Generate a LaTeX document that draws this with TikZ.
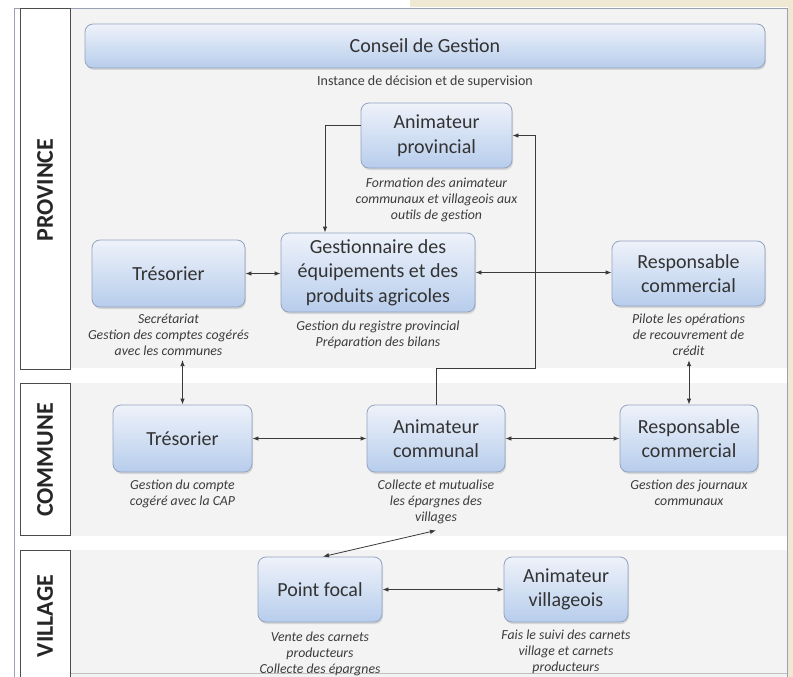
\documentclass[tikz,border=0pt]{standalone}
\usepackage{fontspec}
\setmainfont{Carlito}
\usetikzlibrary{arrows.meta,shadows}
\definecolor{boxtop}{HTML}{EEF2FA}
\definecolor{boxbot}{HTML}{B7CDEC}
\definecolor{boxline}{HTML}{93A3C0}
\definecolor{txt}{HTML}{333333}
\definecolor{captxt}{HTML}{3C3C3C}
\definecolor{panel}{HTML}{F3F3F3}
\definecolor{tanbg}{HTML}{EFE8D2}
\definecolor{frameline}{HTML}{9AA2B2}
\definecolor{conn}{HTML}{3A3A3A}
\begin{document}
\begin{tikzpicture}[x=1pt,y=-1pt,
  box/.style={draw=boxline, line width=0.8pt, rounded corners=8pt,
    top color=boxtop, bottom color=boxbot, align=center, text=txt,
    inner sep=2pt, font=\fontsize{20}{24.5}\selectfont,
    drop shadow={opacity=0.25, shadow xshift=1pt, shadow yshift=-2pt}},
  captext/.style={align=center, text=captxt, inner sep=1pt, anchor=north,
    font=\fontsize{13.8}{16.3}\selectfont\itshape},
  lblbox/.style={draw=black!70, line width=0.9pt, fill=white, inner sep=0pt},
  lbl/.style={rotate=90, text=black!85, inner sep=0pt,
    font=\fontsize{24}{28}\selectfont\bfseries},
  arr/.style={draw=conn, line width=0.8pt, -{Latex[length=6pt,width=4.5pt]}},
  dbl/.style={draw=conn, line width=0.8pt, {Latex[length=6pt,width=4.5pt]}-{Latex[length=6pt,width=4.5pt]}}
]
\useasboundingbox (0,0) rectangle (793,677);
% background
\fill[white] (0,0) rectangle (793,677);
\fill[tanbg] (410,0) rectangle (793,7);
\fill[tanbg] (788,0) rectangle (793,677);
\fill[panel] (70,8) rectangle (787,368);
\fill[panel] (70,383) rectangle (787,536);
\fill[panel] (70,550) rectangle (787,677);
\draw[frameline, line width=0.8pt] (14,677) -- (14,8) -- (787,8) -- (787,677);
\draw[black!25, line width=0.6pt] (70,673) -- (787,673);

% level labels
\node[lblbox, minimum width=50pt, minimum height=361pt] (provB) at (45,188.5) {};
\node[lbl] (provL) at (45,190) {PROVINCE};
\node[lblbox, minimum width=50pt, minimum height=152pt] (commB) at (45,459) {};
\node[lbl] (commL) at (45,460) {COMMUNE};
\node[lblbox, minimum width=50pt, minimum height=140pt] (villB) at (45,620) {};
\node[lbl] (villL) at (45,616) {VILLAGE};

% boxes
\node[box, minimum width=680pt, minimum height=44pt] (conseil) at (425,46) {Conseil de Gestion};
\node[captext, font=\fontsize{14}{16}\selectfont] (conseilc) at (425,74.5) {Instance de décision et de supervision};

\node[box, minimum width=151pt, minimum height=65pt] (ap) at (436.5,135.5) {Animateur\\provincial};
\node[captext] (apc) at (436.5,176.5) {Formation des animateur\\communaux et villageois aux\\outils de gestion};

\node[box, minimum width=194pt, minimum height=79pt] (gest) at (378,272.5) {Gestionnaire des\\équipements et des\\produits agricoles};
\node[captext] (gestc) at (378,319.5) {Gestion du registre provincial\\Préparation des bilans};

\node[box, minimum width=153pt, minimum height=67pt] (tresP) at (168.5,273.5) {Trésorier};
\node[captext] (tresPc) at (168.5,312.5) {Secrétariat\\Gestion des comptes cogérés\\avec les communes};

\node[box, minimum width=153pt, minimum height=65pt] (rcP) at (688.5,273.5) {Responsable\\commercial};
\node[captext] (rcPc) at (688.5,312.5) {Pilote les opérations\\de recouvrement de\\crédit};

\node[box, minimum width=139pt, minimum height=67pt] (tresC) at (182.5,438.5) {Trésorier};
\node[captext] (tresCc) at (182.5,478.5) {Gestion du compte\\cogéré avec la CAP};

\node[box, minimum width=138pt, minimum height=67pt] (ac) at (436,438.5) {Animateur\\communal};
\node[captext] (acc) at (436,478.5) {Collecte et mutualise\\les épargnes des\\villages};

\node[box, minimum width=138pt, minimum height=67pt] (rcC) at (689,438.5) {Responsable\\commercial};
\node[captext] (rcCc) at (689,478.5) {Gestion des journaux\\communaux};

\node[box, minimum width=124pt, minimum height=65pt] (pf) at (320,589.5) {Point focal};
\node[captext] (pfc) at (320,630.5) {Vente des carnets\\producteurs\\Collecte des épargnes};

\node[box, minimum width=124pt, minimum height=65pt] (av) at (566,589.5) {Animateur\\villageois};
\node[captext] (avc) at (566,628.5) {Fais le suivi des carnets\\village et carnets\\producteurs};

% connectors
\coordinate (bend) at (535,368);
\draw[arr] ([yshift=10pt]ap.west) -| ([xshift=-53pt]gest.north);
\draw[arr] (ac.north) -- (ac.north |- bend) -- (bend) -- (bend |- ap.east) -- (ap.east);
\draw[dbl] (tresP.east) -- (tresP.east -| gest.west);
\draw[dbl] (gest.east) -- (gest.east -| rcP.west);
\draw[dbl] ([yshift=-3pt]tresC.north |- tresPc.south) -- (tresC.north);
\draw[dbl] ([yshift=-3pt]rcC.north |- rcPc.south) -- (rcC.north);
\draw[dbl] (tresC.east) -- (ac.west);
\draw[dbl] (ac.east) -- (rcC.west);
\draw[dbl] ([xshift=3pt]pf.north) -- ([yshift=-5pt]acc.south);
\draw[dbl] (pf.east) -- (av.west);
\end{tikzpicture}
\end{document}
